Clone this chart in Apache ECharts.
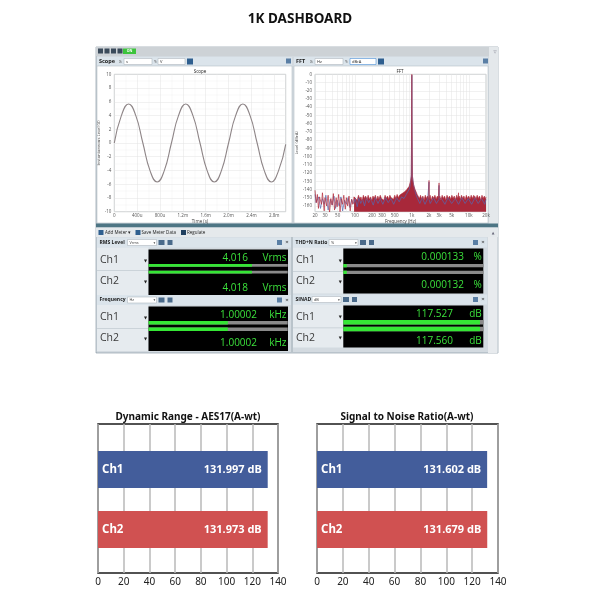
<!DOCTYPE html>
<html>
<head>
<meta charset="utf-8">
<title>1K Dashboard</title>
<script src="https://cdn.jsdelivr.net/npm/echarts@6/dist/echarts.min.js"></script>
<style>
html, body { margin: 0; padding: 0; background: #fff; }
#main { width: 600px; height: 600px; }
</style>
</head>
<body>
<div id="main"></div>
<script>
var FONT = '"Noto Sans", "DejaVu Sans", sans-serif';
var UI_FONT = '"Open Sans", "Noto Sans", sans-serif';

// ---- scope trace (time in ms, level in V)
var scopeTime = [0, 0.125, 0.25, 0.375, 0.5, 0.625, 0.75, 0.875, 1.0, 1.125, 1.25, 1.375, 1.5,
    1.625, 1.75, 1.875, 2.0, 2.125, 2.25, 2.375, 2.5, 2.625, 2.75, 2.875, 3.0];
var scopeLevel = [0, 4.02, 5.68, 4.02, 0, -4.02, -5.68, -4.02, 0, 4.02, 5.68, 4.02, 0,
    -4.02, -5.68, -4.02, 0, 4.02, 5.68, 4.02, 0, -4.02, -5.68, -4.02, -0.2];
var scopeTickLabels = ['0', '400u', '800u', '1.2m', '1.6m', '2.0m', '2.4m', '2.8m'];

// ---- FFT (Hz, dBrA)
var fftLabelFreqs = [20, 30, 50, 100, 200, 300, 500, 1000, 2000, 3000, 5000, 10000, 20000];
var fftGridFreqs = [20, 30, 40, 50, 60, 70, 80, 90, 100, 200, 300, 400, 500, 600, 700, 800, 900,
    1000, 2000, 3000, 4000, 5000, 6000, 7000, 8000, 9000, 10000, 20000];
var fftLevelTicks = [0, -10, -20, -30, -40, -50, -60, -70, -80, -90, -100, -110, -120, -130, -140, -150, -160];
var fftCh2 = [[20, -146], [21, -156], [23, -149], [25, -163], [27, -151], [29, -158], [31, -147], [34, -165],
    [37, -152], [40, -159], [43, -148], [46, -163], [49, -153], [53, -160], [57, -149], [61, -166],
    [66, -153], [71, -158], [76, -150], [82, -162], [88, -152], [95, -157], [102, -151], [110, -161],
    [118, -150], [127, -157], [137, -152], [148, -160], [160, -150], [175, -156], [190, -151], [210, -159],
    [230, -150], [255, -157], [280, -151], [310, -158], [345, -150], [385, -156], [430, -151], [480, -158],
    [540, -150], [600, -155], [660, -149], [730, -151], [800, -146], [860, -144], [910, -139], [950, -131],
    [980, -122], [995, -60], [1000, -1], [1005, -60], [1020, -123], [1060, -132], [1110, -139], [1180, -146],
    [1260, -151], [1380, -157], [1520, -150], [1700, -158], [1900, -151], [1995, -152], [2000, -131], [2005, -152],
    [2100, -157], [2400, -150], [2700, -157], [2995, -152], [3000, -135], [3005, -151], [3300, -151], [3800, -158],
    [4300, -150], [5000, -157], [5800, -151], [6600, -158], [7500, -150], [8600, -157], [9800, -151],
    [11200, -158], [12800, -150], [14600, -157], [16700, -151], [19000, -158], [20000, -152]];
var fftCh1 = [[20, -141], [21, -156], [22, -146], [23, -163], [24, -149], [26, -158], [27, -144], [29, -166],
    [30, -150], [32, -160], [34, -147], [36, -168], [38, -151], [40, -159], [42, -145], [44, -165],
    [47, -150], [49, -161], [52, -146], [55, -167], [58, -151], [61, -158], [64, -147], [68, -164],
    [71, -150], [75, -160], [79, -148], [83, -166], [88, -152], [92, -158], [97, -149],
    [100, -151], [105, -148], [110, -153], [116, -147], [122, -152], [128, -149], [134, -154], [141, -147],
    [148, -151], [155, -148], [163, -153], [171, -147], [180, -152], [189, -149], [198, -154], [208, -148],
    [218, -151], [229, -147], [241, -153], [253, -148], [265, -152], [279, -147], [293, -151], [307, -149],
    [323, -153], [339, -147], [356, -151], [374, -148], [392, -152], [412, -147], [433, -150], [454, -148],
    [477, -152], [501, -147], [526, -151], [552, -146], [580, -150], [609, -147], [639, -149], [671, -145],
    [705, -147], [740, -143], [777, -145], [816, -140], [857, -141], [900, -136], [930, -134], [955, -129],
    [975, -124], [990, -60], [1000, 0], [1010, -60], [1025, -124], [1045, -129], [1070, -134], [1100, -137],
    [1140, -140], [1190, -143], [1240, -146], [1300, -148], [1360, -151], [1420, -147], [1490, -152], [1560, -148],
    [1640, -153], [1720, -147], [1800, -151], [1890, -148], [1990, -152], [2000, -129], [2010, -152], [2090, -147],
    [2190, -153], [2300, -148], [2420, -151], [2540, -147], [2670, -152], [2800, -148], [2940, -151], [2995, -151],
    [3000, -132], [3005, -151], [3090, -148], [3240, -153], [3400, -147], [3570, -151], [3750, -148], [3940, -153],
    [4140, -147], [4350, -151], [4570, -148], [4800, -152], [5040, -147], [5290, -151], [5550, -148], [5830, -153],
    [6120, -147], [6400, -151], [6590, -150], [6600, -144], [6610, -151], [6750, -148], [7090, -152], [7440, -147],
    [7810, -151], [8200, -148], [8610, -153], [9040, -147], [9490, -151], [9960, -148], [10500, -152], [11000, -147],
    [11500, -151], [12190, -150], [12200, -147], [12210, -151], [12700, -148], [13300, -152], [14000, -147],
    [14700, -151], [15400, -148], [16200, -153], [17000, -147], [17800, -151], [18700, -148], [19600, -152],
    [20000, -149]];

// ---- meters
var meterNames = ['RMS Level', 'Frequency', 'THD+N Ratio', 'SINAD'];
var meterUnitBox = ['Vrms', 'Hz', '%', 'dB'];
var meterCh1 = ['4.016', '1.00002', '0.000133', '117.527'];
var meterCh2 = ['4.018', '1.00002', '0.000132', '117.560'];
var meterUnits = ['Vrms', 'kHz', '%', 'dB'];
var meterFillCh1 = [0.743, 0.57, 0.025, 0.976];
var meterFillCh2 = [0.743, 0.57, 0.025, 0.976];

// ---- summary bars
var channels = ['Ch1', 'Ch2'];
var channelColors = ['#435d9b', '#d05151'];
var dynamicRange = [131.997, 131.973];
var snrValues = [131.602, 131.679];

function box(x, y, w, h, fill, stroke) {
    return {
        type: 'rect', silent: true, z: -10,
        shape: {x: x, y: y, width: w, height: h},
        style: {fill: fill, stroke: stroke || null, lineWidth: stroke ? 0.6 : 0}
    };
}

function txt(x, y, str, size, color, align, weight, family) {
    return {
        type: 'text', silent: true, z: 100, x: x, y: y,
        style: {
            text: str, fontSize: size, fontWeight: weight || 'normal',
            fontFamily: family || FONT, fill: color,
            align: align || 'left', verticalAlign: 'middle',
            textAlign: align || 'left', textVerticalAlign: 'middle'
        }
    };
}

var g = [];
// window chrome
g.push(box(96, 47, 402, 306, '#d3dae0', '#7d8f9a'));
g.push(box(96, 47, 402, 9, '#cdd2d6'));
g.push(box(98, 48.5, 5, 5, '#3b4b5b'), box(104.5, 48.5, 5, 5, '#3b4b5b'), box(111, 48.5, 5, 5, '#3b4b5b'), box(117.5, 48.5, 5, 5, '#3b4b5b'));
g.push(box(123, 48.5, 13, 5.5, '#3cc43c'), txt(129.5, 51.3, 'ON', 3.5, '#fff', 'center', 'bold'));
// scope panel
g.push(box(97, 57, 195, 9, '#dbe4eb'), box(97, 66, 195, 157, '#ffffff', '#b5bfc7'));
g.push(txt(99, 61.5, 'Scope', 5.5, '#1a1a1a', 'left', 'bold', UI_FONT));
g.push(txt(119, 61.5, 'X:', 4, '#555'), box(124, 58.5, 28, 6, '#fff', '#b0b8c0'), txt(126, 61.5, 's', 4, '#333'));
g.push(txt(154, 61.5, 'Y:', 4, '#555'), box(158, 58.5, 27, 6, '#fff', '#b0b8c0'), txt(160, 61.5, 'V', 4, '#333'));
g.push(box(187, 58.5, 6, 6, '#2f5f8f'), box(286, 58.5, 5, 5, '#5a7fa5'));
g.push(txt(200, 71.3, 'Scope', 4.5, '#333', 'center'));
// fft panel
g.push(box(294, 57, 194, 9, '#dbe4eb'), box(294, 66, 194, 157, '#ffffff', '#b5bfc7'));
g.push(txt(296, 61.5, 'FFT', 5.5, '#1a1a1a', 'left', 'bold', UI_FONT));
g.push(txt(310, 61.5, 'X:', 4, '#555'), box(315, 58.5, 28, 6, '#fff', '#b0b8c0'), txt(317, 61.5, 'Hz', 4, '#333'));
g.push(txt(345, 61.5, 'Y:', 4, '#555'), box(350, 58.5, 26, 6, '#fff', '#4a90d9'), txt(352, 61.5, 'dBrA', 4, '#333'));
g.push(box(378, 58.5, 6, 6, '#2f5f8f'), box(483, 58.5, 5, 5, '#5a7fa5'));
g.push(txt(400, 71.3, 'FFT', 4.5, '#333', 'center'));
g.push(box(489, 47, 9, 177, '#e4e8eb'), txt(493.5, 51.5, '\u25BD', 4, '#667'));
// separator and meter toolbar
g.push(box(96, 223.5, 402, 4, '#4d7584'));
g.push(box(96, 227.5, 402, 9.5, '#e5e9ec'));
g.push(box(98.5, 230, 5, 5, '#2f5f8f'), txt(105, 232.5, 'Add Meter \u25BE', 4.5, '#222', 'left', 'normal', UI_FONT));
g.push(box(135.5, 230, 5, 5, '#2f5f8f'), txt(141.5, 232.5, 'Save Meter Data', 4.5, '#222', 'left', 'normal', UI_FONT));
g.push(box(181, 230, 5, 5, '#1f3f5f'), txt(187, 232.5, 'Regulate', 4.5, '#222', 'left', 'normal', UI_FONT));
g.push(box(488, 237, 9.5, 116, '#e8ebee'), txt(493, 233, '\u25B2', 3.5, '#667', 'center'));
g.push(box(291, 237, 2, 116, '#b9c3ca'));

// meter panels: [x, headerY, labelColW, blackX, blackW, blackTop, blackH, sepY]
var panelLayout = [
    [97, 237.5, 51.5, 148.5, 139.5, 249.5, 45.5, 270.3],
    [97, 295, 51.5, 148.5, 139.5, 306.5, 44.5, 328.3],
    [293, 237.5, 50.3, 343.3, 140, 248.5, 45, 271],
    [293, 294.5, 50.3, 343.3, 140, 305.5, 42, 327.5]
];
// [ch1 label y, ch2 label y, ch1 value y, ch2 value y, value right x]
var textLayout = [
    [260.5, 281.5, 258.5, 288, 248],
    [317.5, 338.5, 315.3, 343, 257],
    [260.5, 281.5, 257.3, 284.7, 464],
    [317, 338, 314, 341.3, 453]
];
for (var i = 0; i < 4; i++) {
    var p = panelLayout[i], t = textLayout[i];
    var px = p[0];
    g.push(box(px, p[1], 194, 10, '#dbe4eb'));
    g.push(txt(px + 2.5, p[1] + 5, meterNames[i], 5, '#1a1a1a', 'left', 'bold', UI_FONT));
    var dx = i === 2 ? 36 : (i === 3 ? 19 : 30.5);
    g.push(box(px + dx, p[1] + 2, 29, 6, '#fff', '#b0b8c0'), txt(px + dx + 2, p[1] + 5, meterUnitBox[i], 3.8, '#444'));
    g.push(txt(px + dx + 26, p[1] + 5, '\u25BE', 3.5, '#444'));
    g.push(box(px + dx + 31, p[1] + 2.5, 6, 5, '#4a6a8a'), box(px + dx + 40, p[1] + 2.5, 5, 5, '#4a6a8a'));
    g.push(box(px + 180, p[1] + 2.5, 5, 5, '#5a7fa5'), txt(px + 190, p[1] + 5, '\u00D7', 6, '#333', 'center'));
    g.push(box(px, p[1] + 10, p[2], p[5] + p[6] - p[1] - 10, '#e6ebef'));
    g.push(box(px, p[7], p[2], 0.8, '#c2cbd2'));
    g.push(box(p[3], p[5], p[4], p[6], '#000000'));
    g.push(txt(px + 3, t[0], 'Ch1', 10.5, '#3a3a3a', 'left', 'normal', UI_FONT));
    g.push(txt(px + 3, t[1], 'Ch2', 10.5, '#3a3a3a', 'left', 'normal', UI_FONT));
    g.push(txt(p[3] - 3, t[0], '\u25BC', 4, '#222', 'center'));
    g.push(txt(p[3] - 3, t[1], '\u25BC', 4, '#222', 'center'));
    g.push(txt(t[4], t[2], meterCh1[i], 10, '#3be03b', 'right', 'normal', UI_FONT));
    g.push(txt(t[4], t[3], meterCh2[i], 10, '#3be03b', 'right', 'normal', UI_FONT));
    g.push(txt(p[3] + p[4] - 1.5, t[2], meterUnits[i], 10, '#3be03b', 'right', 'normal', UI_FONT));
    g.push(txt(p[3] + p[4] - 1.5, t[3], meterUnits[i], 10, '#3be03b', 'right', 'normal', UI_FONT));
}

// titles
g.push(txt(300, 19, '1K DASHBOARD', 13.5, '#111', 'center', 'bold'));
g.push(txt(188, 417, 'Dynamic Range - AES17(A-wt)', 10, '#111', 'center', 'bold'));
g.push(txt(407, 417, 'Signal to Noise Ratio(A-wt)', 10, '#111', 'center', 'bold'));

var chartDom = document.getElementById('main');
var myChart = echarts.init(chartDom, null, {renderer: 'canvas'});

var tinyLabel = {fontSize: 4.5, color: '#555', fontFamily: UI_FONT};
var plotSplit = {show: true, lineStyle: {color: '#e3e3e3', width: 0.5}};

function meterGrid(left, top, width, height) {
    return {left: left, top: top, width: width, height: height};
}

var grids = [
    {left: 114.3, top: 74.3, width: 171.4, height: 137.4, show: true, borderColor: '#a0a7ad', borderWidth: 0.6, backgroundColor: 'transparent'},
    {left: 315, top: 74.3, width: 171, height: 137.4, show: true, borderColor: '#a0a7ad', borderWidth: 0.6, backgroundColor: 'transparent'},
    meterGrid(148.5, 262, 139.2, 13.4),
    meterGrid(148.5, 319.4, 139.2, 13.2),
    meterGrid(343.3, 262.4, 140, 13.2),
    meterGrid(343.3, 319, 140, 13.4),
    {left: 98, top: 424, width: 180, height: 149, show: true, borderColor: '#1a1a1a', borderWidth: 1.5, backgroundColor: 'transparent'},
    {left: 98, top: 439.5, width: 180, height: 120},
    {left: 317, top: 424, width: 181, height: 149, show: true, borderColor: '#1a1a1a', borderWidth: 1.5, backgroundColor: 'transparent'},
    {left: 317, top: 439.5, width: 181, height: 120}
];

var xAxes = [
    {
        type: 'value', gridIndex: 0, min: 0, max: 3.0, interval: 0.4,
        axisLine: {show: false}, axisTick: {show: false},
        axisLabel: Object.assign({margin: 2, formatter: function (v, idx) {
            return scopeTickLabels[idx] !== undefined ? scopeTickLabels[idx] : '';
        }}, tinyLabel),
        splitLine: plotSplit,
        minorTick: {show: false, splitNumber: 2},
        minorSplitLine: {show: true, lineStyle: {color: '#f0f0f0', width: 0.4}},
        name: 'Time (s)', nameLocation: 'middle', nameGap: 7,
        nameTextStyle: {fontSize: 4.5, color: '#444', fontFamily: UI_FONT}
    },
    {
        type: 'value', gridIndex: 1, min: Math.log10(20), max: Math.log10(20000),
        axisLine: {show: false},
        axisTick: {show: false, customValues: fftGridFreqs.map(Math.log10)},
        axisLabel: Object.assign({margin: 2, customValues: fftLabelFreqs.map(Math.log10), formatter: function (v) {
            var f = Math.round(Math.pow(10, v));
            return f >= 1000 ? (f / 1000) + 'k' : String(f);
        }}, tinyLabel),
        splitLine: plotSplit,
        name: 'Frequency (Hz)', nameLocation: 'middle', nameGap: 6,
        nameTextStyle: {fontSize: 4.5, color: '#444', fontFamily: UI_FONT}
    }
];
var yAxes = [
    {
        type: 'value', gridIndex: 0, min: -10, max: 10, interval: 2,
        axisLine: {show: false}, axisTick: {show: false},
        axisLabel: Object.assign({margin: 3}, tinyLabel),
        splitLine: plotSplit,
        minorTick: {show: false, splitNumber: 2},
        minorSplitLine: {show: true, lineStyle: {color: '#f0f0f0', width: 0.4}},
        name: 'Instantaneous Level (V)', nameLocation: 'middle', nameGap: 9,
        nameTextStyle: {fontSize: 4.2, color: '#444', fontFamily: UI_FONT}
    },
    {
        type: 'value', gridIndex: 1, min: -167, max: 0,
        axisLine: {show: false},
        axisTick: {show: false, customValues: fftLevelTicks},
        axisLabel: Object.assign({margin: 3, customValues: fftLevelTicks}, tinyLabel),
        splitLine: plotSplit,
        name: 'Level (dBrA)', nameLocation: 'middle', nameGap: 12,
        nameTextStyle: {fontSize: 4.2, color: '#444', fontFamily: UI_FONT}
    }
];

function toLog(d) { return [Math.log10(d[0]), d[1]]; }

var series = [
    {
        name: 'Scope', type: 'line', xAxisIndex: 0, yAxisIndex: 0,
        data: scopeTime.map(function (t, k) { return [t, scopeLevel[k]]; }),
        smooth: true, symbol: 'none', lineStyle: {color: '#8e8587', width: 1.1}
    },
    {
        name: 'FFT Ch2', type: 'line', xAxisIndex: 1, yAxisIndex: 1,
        data: fftCh2.map(toLog),
        symbol: 'none', lineStyle: {color: '#5568b0', width: 0.7}
    },
    {
        // low-frequency part of Ch1 drawn as a plain trace
        name: 'FFT Ch1 low', type: 'line', xAxisIndex: 1, yAxisIndex: 1,
        data: fftCh1.filter(function (d) { return d[0] <= 100; }).map(toLog),
        symbol: 'none', lineStyle: {color: '#b32a3a', width: 0.7}
    },
    {
        // dense noise floor of Ch1 reads as a filled band down to the plot floor
        name: 'FFT Ch1', type: 'line', xAxisIndex: 1, yAxisIndex: 1,
        data: fftCh1.filter(function (d) { return d[0] >= 97; }).map(toLog),
        symbol: 'none', lineStyle: {color: '#b02c3c', width: 0.6},
        areaStyle: {origin: 'start', color: '#a8283a', opacity: 1}
    }
];

// meter bars
var meterBarWidth = [2.8, 3.5, 3.3, 4.5];
for (var m = 0; m < 4; m++) {
    xAxes.push({type: 'value', gridIndex: m + 2, min: 0, max: 1, show: false});
    yAxes.push({type: 'category', gridIndex: m + 2, data: channels, inverse: true, show: false});
    series.push({
        name: meterNames[m], type: 'bar', xAxisIndex: m + 2, yAxisIndex: m + 2,
        data: [meterFillCh1[m], meterFillCh2[m]],
        barWidth: meterBarWidth[m], silent: true,
        itemStyle: {color: '#35e635'},
        showBackground: true, backgroundStyle: {color: '#8a8a8a'}
    });
}

// summary bar charts
function summary(frameIdx, values, title) {
    xAxes.push({
        type: 'value', gridIndex: frameIdx, min: 0, max: 140, interval: 20,
        axisLine: {show: false}, axisTick: {show: false},
        axisLabel: {fontSize: 10, color: '#222', margin: 4, fontFamily: FONT},
        splitLine: {show: true, lineStyle: {color: '#b8b8b8', width: 1.5}}
    });
    yAxes.push({type: 'value', gridIndex: frameIdx, min: 0, max: 1, show: false});
    xAxes.push({type: 'value', gridIndex: frameIdx + 1, min: 0, max: 140, show: false});
    yAxes.push({
        type: 'category', gridIndex: frameIdx + 1, data: channels, inverse: true, z: 10,
        axisLine: {show: false}, axisTick: {show: false},
        axisLabel: {inside: true, margin: 4, color: '#fff', fontSize: 11.5, fontWeight: 'bold', fontFamily: FONT}
    });
    series.push({
        name: title, type: 'bar', xAxisIndex: xAxes.length - 1, yAxisIndex: yAxes.length - 1,
        barWidth: 37,
        data: values.map(function (v, k) { return {value: v, itemStyle: {color: channelColors[k]}}; }),
        label: {
            show: true, position: 'insideRight', distance: 6,
            formatter: function (p) { return p.value.toFixed(3) + ' dB'; },
            color: '#fff', fontSize: 11, fontWeight: 'bold', fontFamily: FONT
        }
    });
}
summary(6, dynamicRange, 'Dynamic Range - AES17(A-wt)');
summary(8, snrValues, 'Signal to Noise Ratio(A-wt)');

var option = {
    backgroundColor: '#ffffff',
    animation: false,
    graphic: {elements: g},
    grid: grids,
    xAxis: xAxes,
    yAxis: yAxes,
    series: series
};

option && myChart.setOption(option);
</script>
</body>
</html>
